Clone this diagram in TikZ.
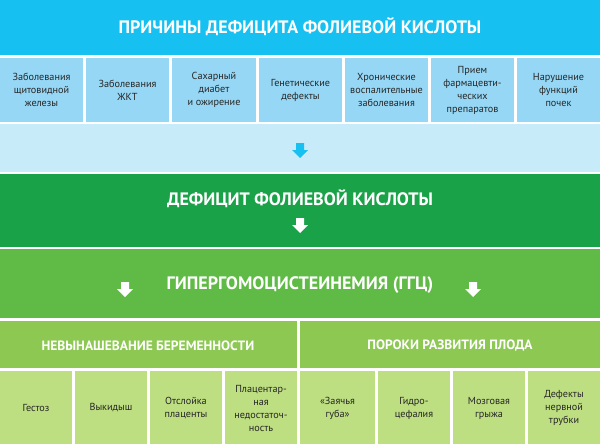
\documentclass[tikz,border=0pt]{standalone}
\usepackage{fontspec}
\setmainfont{PT Sans}
\definecolor{cyanT}{RGB}{22,192,240}
\definecolor{cellB}{RGB}{150,215,245}
\definecolor{paleB}{RGB}{200,235,250}
\definecolor{darkG}{RGB}{26,162,72}
\definecolor{midG}{RGB}{96,186,70}
\definecolor{subG}{RGB}{140,200,82}
\definecolor{cellG}{RGB}{190,222,130}
\begin{document}
\begin{tikzpicture}[x=1pt,y=-1pt,
  cell/.style={align=center,font=\fontsize{10.2}{13}\selectfont,text=black!85},
  head/.style={font=\bfseries\fontsize{18}{20}\selectfont,text=white},
  sub/.style={font=\bfseries\fontsize{13.5}{15}\selectfont,text=white},
  darr/.pic={\fill[pic actions] (-4,-8) -- (4,-8) -- (4,-1) -- (8,-1) -- (0,7) -- (-8,-1) -- (-4,-1) -- cycle;}]
\useasboundingbox (0,0) rectangle (600,444);
\fill[white] (0,0) rectangle (600,444);
% top
\fill[cyanT] (0,0) rectangle (600,55);
\node[head] (t1) at (300,27) {ПРИЧИНЫ ДЕФИЦИТА ФОЛИЕВОЙ КИСЛОТЫ};
\foreach \a/\b/\t [count=\i] in {0/83/{Заболевания\\щитовидной\\железы},86/169/{Заболевания\\ЖКТ},172/256/{Сахарный\\диабет\\и ожирение},259/342/{Генетические\\дефекты},345/428/{Хронические\\воспалительные\\заболевания},431/514/{Прием\\фармацевти-\\ческих\\препаратов},517/600/{Нарушение\\функций\\почек}}{
  \fill[cellB] (\a,58) rectangle (\b,122);
  \node[cell] (c\i) at ({(\a+\b)/2},90) {\t};
}
\fill[paleB] (0,124) rectangle (600,172);
\pic[fill=cyanT] at (300,151) {darr};
% green bands
\fill[darkG] (0,174) rectangle (600,247);
\node[head] (t2) at (300,199) {ДЕФИЦИТ ФОЛИЕВОЙ КИСЛОТЫ};
\pic[fill=white] at (300,226) {darr};
\fill[midG] (0,249) rectangle (600,318);
\node[head] (t3) at (300,285) {ГИПЕРГОМОЦИСТЕИНЕМИЯ (ГГЦ)};
\pic[fill=white] at (125,290) {darr};
\pic[fill=white] at (473,290) {darr};
% sub headers
\fill[subG] (0,321) rectangle (297,368);
\node[sub] (s1) at (148,346) {НЕВЫНАШЕВАНИЕ БЕРЕМЕННОСТИ};
\fill[subG] (300,321) rectangle (600,368);
\node[sub] (s2) at (450,346) {ПОРОКИ РАЗВИТИЯ ПЛОДА};
\foreach \a/\b/\t [count=\i] in {0/72/{Гестоз},75/147/{Выкидыш},150/222/{Отслойка\\плаценты},225/297/{Плацентар-\\ная\\недостаточ-\\ность},300/375/{«Заячья\\губа»},378/450/{Гидро-\\цефалия},453/525/{Мозговая\\грыжа},528/600/{Дефекты\\нервной\\трубки}}{
  \fill[cellG] (\a,371) rectangle (\b,444);
  \node[cell] (b\i) at ({(\a+\b)/2},408) {\t};
}
\end{tikzpicture}
\end{document}
